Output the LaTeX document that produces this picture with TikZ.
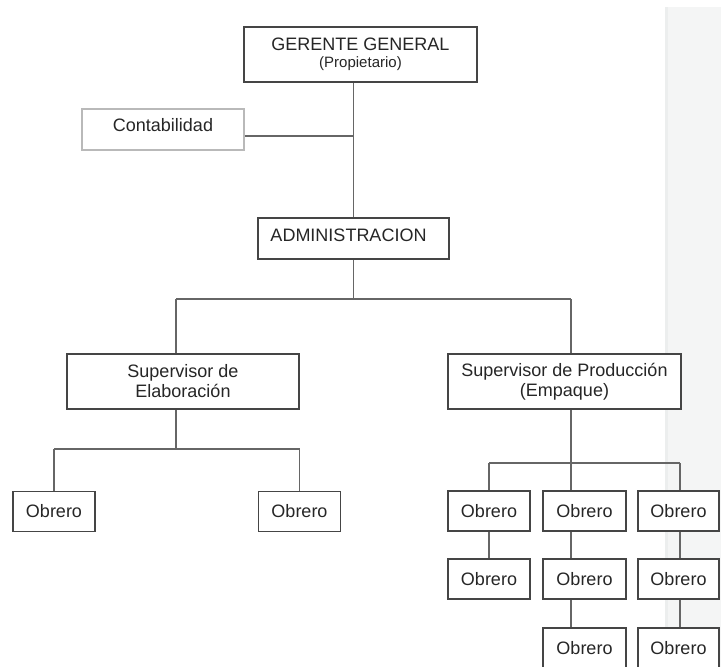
\documentclass[tikz,border=0pt]{standalone}
\usepackage{fontspec}
\setmainfont{Liberation Sans}
\definecolor{txt}{HTML}{262626}
\definecolor{boxline}{HTML}{454545}
\definecolor{conn}{HTML}{666666}
\definecolor{panel}{HTML}{F4F5F5}
\definecolor{panelEdge}{HTML}{ECEEEE}
\begin{document}
\begin{tikzpicture}[x=1pt,y=-1pt,
  orgbox/.style={draw=boxline, line width=1.4pt, fill=white, inner sep=0pt, align=center,
    text=txt, font=\fontsize{18}{20}\selectfont},
  lightbox/.style={orgbox, draw=gray!55},
  obrero/.style={orgbox, minimum width=82pt, minimum height=40pt},
  link/.style={draw=conn, line width=1.9pt}]
\useasboundingbox (0,0) rectangle (721,667);
\clip (0,0) rectangle (721,667);
% right panel
\fill[panel] (665,7) rectangle (721,667);
\fill[panelEdge] (665,7) rectangle (668,667);

% junction coordinates
\coordinate (jA) at (353.5,299);
\coordinate (jE) at (176,299);
\coordinate (jP) at (571,299);
\coordinate (kE) at (176,449);
\coordinate (kL) at (54,449);
\coordinate (kR) at (299.5,449);
\coordinate (mP) at (571,463);
\coordinate (mA) at (489,463);
\coordinate (mC) at (680,463);

% connectors
\draw[link] (353.5,82) -- (jA);
\draw[link] (163,136) -- (353.5,136);
\draw[link] (jE) -- (jP);
\draw[link] (jE) -- (176,354);
\draw[link] (jP) -- (571,354);
\draw[link] (176,409) -- (kE);
\draw[link] (kL) -- (kR);
\draw[link] (kL) -- (54,491);
\draw[link] (kR) -- (299.5,491);
\draw[link] (571,409) -- (mP);
\draw[link] (mA) -- (mC);
\draw[link] (mA) -- (489,491);
\draw[link] (mP) -- (571,628);
\draw[link] (mC) -- (680,628);
\draw[link] (489,531) -- (489,559);

% nodes
\node[orgbox, minimum width=233pt, minimum height=55pt] (ger) at (360.5,54.5)
  {GERENTE GENERAL\\[-3pt]{\fontsize{15}{16}\selectfont (Propietario)}};
\node[lightbox, minimum width=162pt, minimum height=41pt] (cont) at (163,129.5) {\raisebox{9pt}{Contabilidad}};
\node[orgbox, minimum width=191pt, minimum height=41pt] (adm) at (353.5,238.5) {\raisebox{7pt}{ADMINISTRACION}\hspace{10pt}};
\node[orgbox, minimum width=232pt, minimum height=55pt] (supE) at (183,381.5) {Supervisor de\\Elaboración};
\node[orgbox, minimum width=233pt, minimum height=55pt] (supP) at (564.5,381.5) {Supervisor de Producción\\(Empaque)};

\node[obrero] (o1) at (54,511.5) {Obrero};
\node[obrero] (o2) at (299.5,511.5) {Obrero};
\node[obrero] (pa1) at (489,511) {Obrero};
\node[obrero] (pa2) at (489,579) {Obrero};
\node[obrero, minimum width=83pt] (pb1) at (584.5,511) {Obrero};
\node[obrero, minimum width=83pt] (pb2) at (584.5,579) {Obrero};
\node[obrero, minimum width=83pt] (pb3) at (584.5,648) {Obrero};
\node[obrero, minimum width=81pt] (pc1) at (678.5,511) {Obrero};
\node[obrero, minimum width=81pt] (pc2) at (678.5,579) {Obrero};
\node[obrero, minimum width=81pt] (pc3) at (678.5,648) {Obrero};
\end{tikzpicture}
\end{document}
